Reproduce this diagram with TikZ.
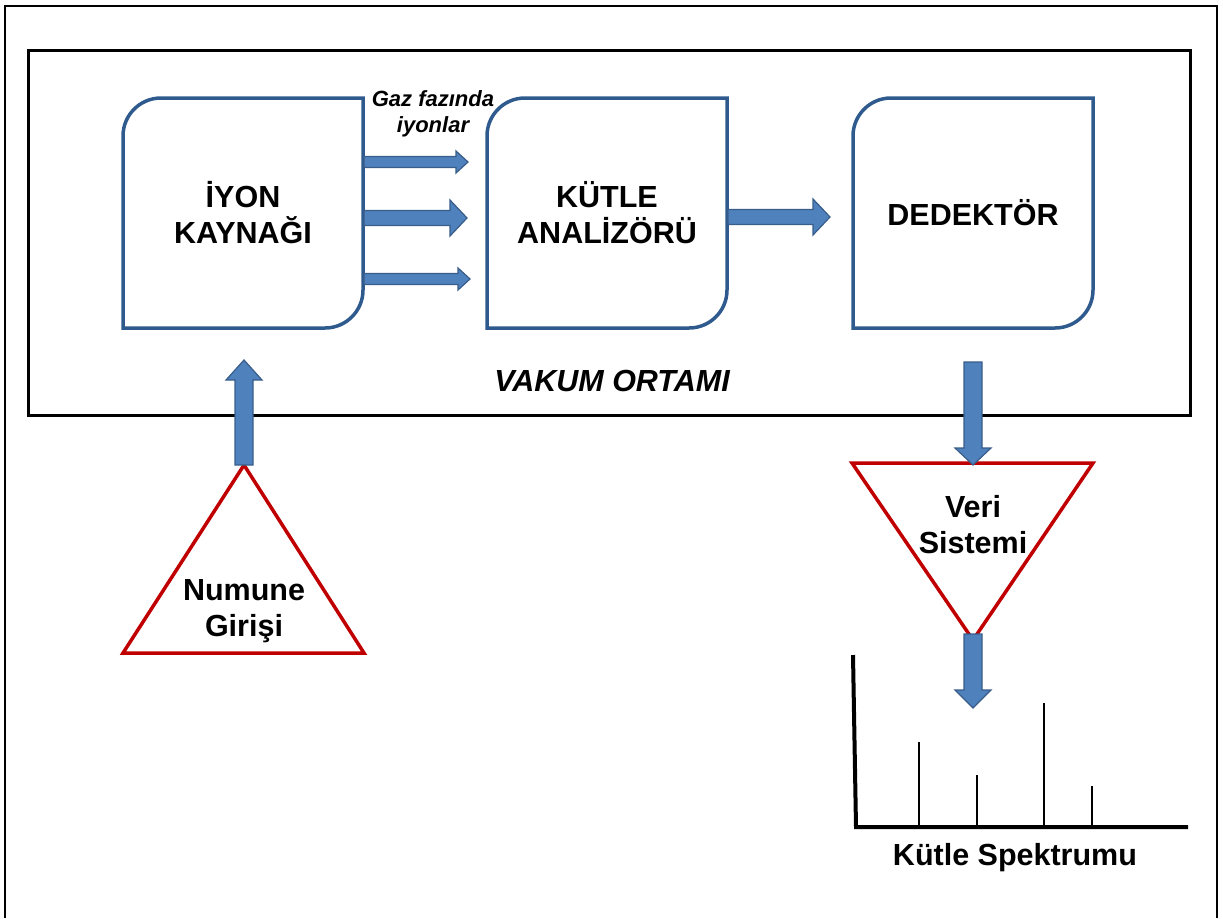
\documentclass[tikz,border=0pt]{standalone}
\usepackage{fontspec}
\setmainfont{Liberation Sans}
\usetikzlibrary{calc}
\definecolor{boxblue}{HTML}{2F5A8E}
\definecolor{arrfill}{HTML}{4F81BD}
\definecolor{arrline}{HTML}{385D8A}
\definecolor{trired}{HTML}{C00000}
\tikzset{
  boxn/.style={rectangle, draw=none, minimum width=240pt, minimum height=230pt, inner sep=0pt, outer sep=0pt, align=center, font=\fontsize{30.5}{36}\selectfont\bfseries},
  boxline/.style={draw=boxblue, line width=3.5pt},
  lbl/.style={align=center, inner sep=0pt, font=\fontsize{30.5}{36}\selectfont\bfseries},
  smalllbl/.style={align=center, inner sep=0pt, font=\fontsize{22}{26}\selectfont\bfseries\itshape},
  blockarr/.style={draw=arrline, fill=arrfill, line width=1.2pt, line join=miter},
  tri/.style={draw=trired, line width=3.5pt, line join=miter},
  frame/.style={draw=black, line width=2.5pt},
  vac/.style={draw=black, line width=3pt},
  axisline/.style={draw=black, line width=4pt},
  peak/.style={draw=black, line width=2pt}
}
\newcommand{\blockarrow}[5]{%
  \coordinate (ba-q) at ($(#2)!#5!(#1)$);
  \filldraw[blockarr] ($(#1)!#3!90:(#2)$) -- ($(ba-q)!#3!-90:(#1)$) -- ($(ba-q)!#4!-90:(#1)$) -- (#2) -- ($(ba-q)!#4!90:(#1)$) -- ($(ba-q)!#3!90:(#1)$) -- ($(#1)!#3!-90:(#2)$) -- cycle;}
\newcommand{\roundbox}[1]{%
  \draw[boxline] (#1.south west) -- ([yshift=-38pt]#1.north west) arc[start angle=180, end angle=90, radius=38pt] -- (#1.north east) -- ([yshift=38pt]#1.south east) arc[start angle=0, end angle=-90, radius=38pt] -- cycle;}
\begin{document}
\begin{tikzpicture}[x=1pt, y=1pt]
\useasboundingbox (0,0) rectangle (1223,-918);
% outer frame
\draw[frame] (5,-918) -- (5,-6) -- (1217,-6) -- (1217,-918);
% vacuum box
\draw[vac] (28,-50) rectangle (1190,-415);
\node[lbl, font=\fontsize{30.5}{36}\selectfont\bfseries\itshape] (vak) at (612,-381) {VAKUM ORTAMI};
% boxes
\node[boxn] (ion) at (243,-213) {İYON\\KAYNAĞI};
\node[boxn] (kut) at (607,-213) {KÜTLE\\ANALİZÖRÜ};
\node[boxn] (ded) at (973,-213) {DEDEKTÖR};
\roundbox{ion}
\roundbox{kut}
\roundbox{ded}
\node[smalllbl] (gaz) at (433,-114) {Gaz fazında\\iyonlar};
% arrows ion -> kut
\coordinate (a1s) at ($(ion.east)+(1,51)$);
\coordinate (a1e) at ($(kut.west)+(-19,51)$);
\coordinate (a2s) at ($(ion.east)+(1,-5)$);
\coordinate (a2e) at ($(kut.west)+(-20,-5)$);
\coordinate (a3s) at ($(ion.east)+(1,-66)$);
\coordinate (a3e) at ($(kut.west)+(-17,-66)$);
\blockarrow{a1s}{a1e}{5.5pt}{11pt}{12pt}
\blockarrow{a2s}{a2e}{7.5pt}{18pt}{17pt}
\blockarrow{a3s}{a3e}{5.5pt}{11pt}{12pt}
% kut -> ded
\coordinate (a4s) at ($(kut.east)+(1,-4)$);
\coordinate (a4e) at ($(ded.west)+(-23,-4)$);
\blockarrow{a4s}{a4e}{7.5pt}{18pt}{17pt}
% Numune triangle
\coordinate (numtop) at ($(ion.south)+(1,-137)$);
\draw[tri] (numtop) -- (123,-653) -- (364,-653) -- cycle;
\node[lbl] (num) at (244,-611) {Numune\\Girişi};
\coordinate (u1e) at ($(ion.south)+(1,-32)$);
\blockarrow{numtop}{u1e}{9pt}{18pt}{20pt}
% Veri triangle
\coordinate (veritl) at (852,-463);
\coordinate (veritr) at (1093,-463);
\coordinate (veribot) at (973,-640);
\draw[tri] (veritl) -- (veritr) -- (veribot) -- cycle;
\node[lbl] (veri) at (973,-525) {Veri\\Sistemi};
\coordinate (d1s) at ($(ded.south)+(0,-34)$);
\coordinate (d1e) at (973,-465);
\blockarrow{d1s}{d1e}{9pt}{18pt}{17pt}
\coordinate (d2s) at (973,-634);
\coordinate (d2e) at (973,-708);
\blockarrow{d2s}{d2e}{9pt}{18pt}{18pt}
% spectrum
\coordinate (yax) at (853,-655);
\coordinate (orig) at (856,-827);
\coordinate (xax) at (1188,-827);
\draw[axisline] (yax) -- (orig) -- (xax);
\draw[peak] (919,-827) -- (919,-742);
\draw[peak] (977,-827) -- (977,-775);
\draw[peak] (1044,-827) -- (1044,-703);
\draw[peak] (1092,-827) -- (1092,-786);
\node[lbl] (spek) at (1015,-858) {Kütle Spektrumu};
\end{tikzpicture}
\end{document}
